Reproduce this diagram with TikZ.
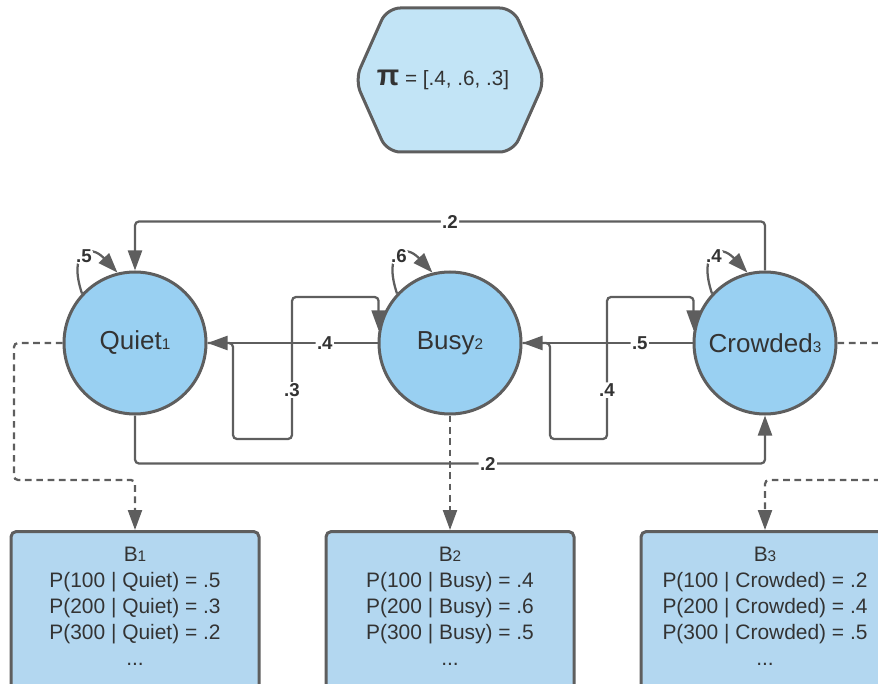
\documentclass[tikz,border=0pt]{standalone}
\usepackage{fontspec}
\setmainfont{Liberation Sans}
\usetikzlibrary{arrows.meta,calc}
\definecolor{linegray}{HTML}{5E5E5E}
\definecolor{txt}{HTML}{333333}
\definecolor{statefill}{HTML}{99D0F2}
\definecolor{hexfill}{HTML}{C2E4F6}
\definecolor{boxfill}{HTML}{B3D7F0}
\newcommand\subidx[1]{{\fontsize{11.5}{11.5}\selectfont #1}}
\tikzset{
  state/.style={circle, draw=linegray, line width=2.25pt, fill=statefill,
    minimum size=106.5pt, inner sep=0pt, text=txt, font=\fontsize{19.5}{22}\selectfont},
  obsbox/.style={rectangle, rounded corners=4pt, draw=linegray, line width=2.25pt,
    fill=boxfill, minimum width=186pt, minimum height=130pt, anchor=north},
  obstext/.style={align=center, text=txt, font=\fontsize{15.7}{19.5}\selectfont},
  edge/.style={draw=linegray, line width=1.7pt, rounded corners=3pt,
    -{Triangle[length=15pt,width=10.5pt]}},
  emit/.style={edge, dash pattern=on 5pt off 3.5pt},
  lbl/.style={fill=white, inner sep=1pt, text=txt,
    font=\bfseries\fontsize{14}{16}\selectfont}
}
\begin{document}
\begin{tikzpicture}[x=0.75pt,y=-0.75pt]
\clip (0,0) rectangle (878,684);

% initial distribution
\draw[line width=2.25pt, draw=linegray, fill=hexfill, rounded corners=10pt]
  (355,80) -- (387,8) -- (513,8) -- (545,80) -- (513,152) -- (387,152) -- cycle;
\node[text=txt, font=\fontsize{15.5}{18}\selectfont] (pi) at (443,80)
  {{\fontsize{22}{22}\selectfont\bfseries π} = [.4, .6, .3]};

% hidden states
\node[state] (Q) at (135,343) {Quiet\subidx{1}};
\node[state] (B) at (450,343) {Busy\subidx{2}};
\node[state] (C) at (765,343) {Crowded\subidx{3}};

% emission tables
\node[obsbox] (B1) at (135,530) {};
\node[obsbox] (B2) at (450,530) {};
\node[obsbox] (B3) at (765,530) {};
\node[obstext] (B1t) at (135,606) {B\subidx{1}\\P(100 | Quiet) = .5\\P(200 | Quiet) = .3\\P(300 | Quiet) = .2\\...};
\node[obstext] (B2t) at (450,606) {B\subidx{2}\\P(100 | Busy) = .4\\P(200 | Busy) = .6\\P(300 | Busy) = .5\\...};
\node[obstext] (B3t) at (765,606) {B\subidx{3}\\P(100 | Crowded) = .2\\P(200 | Crowded) = .4\\P(300 | Crowded) = .5\\...};

% self transitions
\draw[edge] (Q.137) .. controls +(-14,-42) and +(-28,-30) .. (Q.104)
  node[lbl, pos=0.5] {.5};
\draw[edge] (B.137) .. controls +(-14,-42) and +(-28,-30) .. (B.104)
  node[lbl, pos=0.5] {.6};
\draw[edge] (C.137) .. controls +(-14,-42) and +(-28,-30) .. (C.104)
  node[lbl, pos=0.5] {.4};

% transitions between neighbours
\draw[edge] (B.west) -- (Q.east) node[lbl, pos=0.31] {.4};
\draw[edge] (C.west) -- (B.east) node[lbl, pos=0.31] {.5};
\draw[edge] (Q.east) -- (233,343) -- (233,439) -- (292,439)
  -- node[lbl, pos=0.345] {.3} (292,297) -| (B.170);
\draw[edge] (B.east) -- (550,343) -- (550,439) -- (607,439)
  -- node[lbl, pos=0.345] {.4} (607,297) -| (C.170);

% long transitions
\draw[edge] (C.north) -- ++(0,-49) -| (Q.north) node[lbl, pos=0.25] {.2};
\draw[edge] (Q.south) -- ++(0,48) -| (C.south) node[lbl, pos=0.28] {.2};

% emissions
\draw[emit] (Q.west) -- (14,343) |- (135,480) -- (B1.north);
\draw[emit] (B.south) -- (B2.north);
\draw[emit] (C.east) -- (900,343) |- (765,480) -- (B3.north);
\end{tikzpicture}
\end{document}
